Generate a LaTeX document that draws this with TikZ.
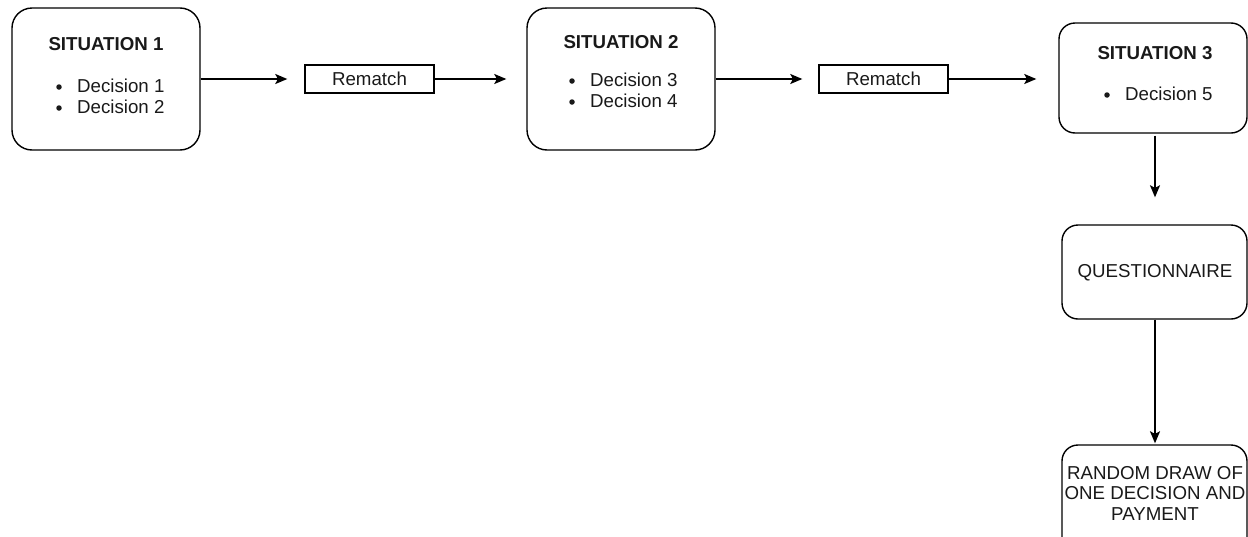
\documentclass[tikz,border=0pt]{standalone}
\usepackage{fontspec}
\setmainfont{Liberation Sans}
\usetikzlibrary{arrows.meta}
\begin{document}
\begin{tikzpicture}[x=1pt,y=-1pt,
  font=\fontsize{18.7}{20.5}\selectfont,
  box/.style={draw=black,line width=1.4pt,rounded corners=20pt,inner sep=0pt},
  rbox/.style={draw=black,line width=1.4pt,inner sep=0pt},
  txt/.style={inner sep=0pt,anchor=center,text=black!90},
  ltxt/.style={inner sep=0pt,anchor=west,text=black!90},
  dot/.style={circle,fill=black!90,inner sep=0pt,minimum size=5.5pt},
  conn/.style={line width=1.5pt,-{Stealth[length=12pt,width=10pt,inset=2.5pt]}}]
\useasboundingbox (0,0) rectangle (1248,536);
% boxes
\node[box,minimum width=188pt,minimum height=142pt] (s1) at (106,79) {};
\node[rbox,minimum width=129pt,minimum height=28pt] (r1) at (369.5,79) {};
\node[box,minimum width=188pt,minimum height=142pt] (s2) at (621,79) {};
\node[rbox,minimum width=129pt,minimum height=28pt] (r2) at (883.5,79) {};
\node[box,minimum width=188pt,minimum height=110pt,rounded corners=16pt] (s3) at (1153,78) {};
\node[box,minimum width=185pt,minimum height=94pt,rounded corners=16pt] (q) at (1154.5,272) {};
\node[box,minimum width=185pt,minimum height=110pt,rounded corners=16pt] (rd) at (1154.5,500) {};
% texts
\node[txt] (s1t) at (106,44) {\bfseries SITUATION 1};
\node[dot] (s1b1) at (59,87) {};
\node[ltxt] (s1d1) at (77,86) {Decision 1};
\node[dot] (s1b2) at (59,108) {};
\node[ltxt] (s1d2) at (77,107) {Decision 2};
\node[txt] (r1t) at (369.5,79) {Rematch};
\node[txt] (s2t) at (621,42) {\bfseries SITUATION 2};
\node[dot] (s2b1) at (572,81) {};
\node[ltxt] (s2d1) at (590,80) {Decision 3};
\node[dot] (s2b2) at (572,102) {};
\node[ltxt] (s2d2) at (590,101) {Decision 4};
\node[txt] (r2t) at (883.5,79) {Rematch};
\node[txt] (s3t) at (1155,53) {\bfseries SITUATION 3};
\node[dot] (s3b1) at (1107,95) {};
\node[ltxt] (s3d1) at (1125,94) {Decision 5};
\node[txt] (qt) at (1155,273) {QUESTIONNAIRE};
\node[txt,align=center] (rdt) at (1155,493) {RANDOM DRAW OF\\ONE DECISION AND\\PAYMENT};
% connectors
\draw[conn,shorten >=17pt] (s1.east) -- (r1.west);
\draw[conn,shorten >=20pt] (r1.east) -- (s2.west);
\draw[conn,shorten >=16pt] (s2.east) -- (r2.west);
\draw[conn,shorten >=22pt] (r2.east) -- (s3.west |- r2.east);
\draw[conn,shorten <=2pt,shorten >=27pt] ([xshift=2pt]s3.south) -- ([xshift=2pt]s3.south |- q.north);
\draw[conn,shorten >=1pt] ([xshift=0.5pt]q.south) -- ([xshift=0.5pt]rd.north);
\end{tikzpicture}
\end{document}
